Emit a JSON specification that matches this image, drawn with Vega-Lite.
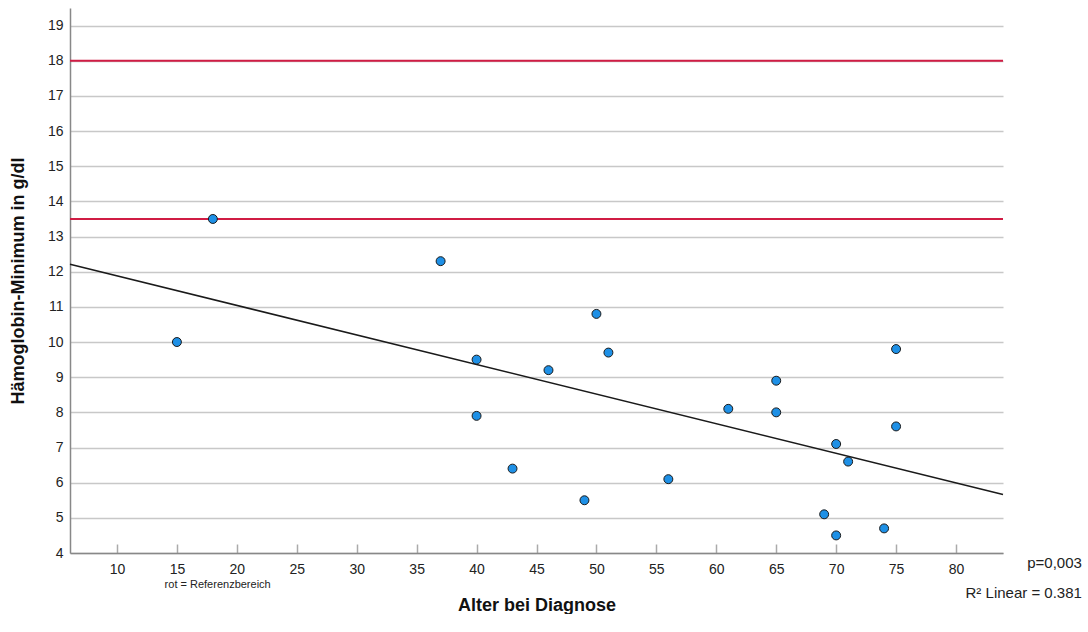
{
  "$schema": "https://vega.github.io/schema/vega-lite/v6.json",
  "width": 933,
  "height": 545,
  "padding": {"left": 9, "top": 8, "right": 0, "bottom": 0},
  "background": "white",
  "config": {
    "view": {"stroke": null},
    "font": "Liberation Sans",
    "axis": {"labelFont": "Liberation Sans", "titleFont": "Liberation Sans"}
  },
  "datasets": {
    "pts": [
      {"alter": 15, "hb": 10.0},
      {"alter": 18, "hb": 13.5},
      {"alter": 37, "hb": 12.3},
      {"alter": 40, "hb": 9.5},
      {"alter": 40, "hb": 7.9},
      {"alter": 43, "hb": 6.4},
      {"alter": 46, "hb": 9.2},
      {"alter": 49, "hb": 5.5},
      {"alter": 50, "hb": 10.8},
      {"alter": 51, "hb": 9.7},
      {"alter": 56, "hb": 6.1},
      {"alter": 61, "hb": 8.1},
      {"alter": 65, "hb": 8.9},
      {"alter": 65, "hb": 8.0},
      {"alter": 69, "hb": 5.1},
      {"alter": 70, "hb": 7.1},
      {"alter": 70, "hb": 4.5},
      {"alter": 71, "hb": 6.6},
      {"alter": 74, "hb": 4.7},
      {"alter": 75, "hb": 9.8},
      {"alter": 75, "hb": 7.6}
    ],
    "ref": [{"hb": 13.5}, {"hb": 18}],
    "noteLeft": [
      {"alter": 18.4, "hb": 3.09, "txt": "rot = Referenzbereich"}
    ],
    "noteRight": [
      {"alter": 90.5, "hb": 3.72, "txt": "p=0,003"},
      {"alter": 90.5, "hb": 2.86, "txt": "R² Linear = 0.381"}
    ]
  },
  "encoding": {
    "x": {
      "field": "alter", "type": "quantitative",
      "scale": {"domain": [6.08, 83.92], "nice": false, "zero": false},
      "axis": {
        "title": "Alter bei Diagnose",
        "values": [10, 15, 20, 25, 30, 35, 40, 45, 50, 55, 60, 65, 70, 75, 80],
        "labelOverlap": false,
        "grid": false,
        "domainColor": "#888888",
        "domainWidth": 1.5,
        "tickColor": "#aaaaaa",
        "tickWidth": 1.5,
        "tickSize": -9,
        "labelPadding": 18,
        "labelFontSize": 14,
        "labelColor": "#222222",
        "titleFontSize": 18,
        "titleFontWeight": "bold",
        "titleColor": "#111111",
        "titlePadding": 20
      }
    },
    "y": {
      "field": "hb", "type": "quantitative",
      "scale": {"domain": [4, 19.5], "nice": false, "zero": false},
      "axis": {
        "title": "Hämoglobin-Minimum in g/dl",
        "values": [4, 5, 6, 7, 8, 9, 10, 11, 12, 13, 14, 15, 16, 17, 18, 19],
        "labelOverlap": false,
        "grid": true,
        "gridColor": "#c8c8c8",
        "gridWidth": 1.5,
        "ticks": false,
        "domainColor": "#888888",
        "domainWidth": 1.5,
        "labelPadding": 7,
        "labelFontSize": 14,
        "labelColor": "#222222",
        "titleFontSize": 18,
        "titleFontWeight": "bold",
        "titleColor": "#111111",
        "titlePadding": 20
      }
    }
  },
  "layer": [
    {
      "data": {"name": "ref"},
      "mark": {"type": "rule", "color": "#d01c44", "strokeWidth": 2},
      "encoding": {"x": null, "y": {"field": "hb", "type": "quantitative"}}
    },
    {
      "data": {"name": "pts"},
      "transform": [{"regression": "hb", "on": "alter", "extent": [6.08, 83.92]}],
      "mark": {"type": "line", "color": "#1a1a1a", "strokeWidth": 1.5},
      "encoding": {}
    },
    {
      "data": {"name": "pts"},
      "mark": {"type": "circle", "size": 80, "color": "#1e90e6", "opacity": 1, "stroke": "#1a1a1a", "strokeWidth": 1},
      "encoding": {}
    },
    {
      "data": {"name": "noteLeft"},
      "mark": {"type": "text", "clip": false, "baseline": "middle", "align": "center", "fontSize": 11, "color": "#222222"},
      "encoding": {"text": {"field": "txt"}}
    },
    {
      "data": {"name": "noteRight"},
      "mark": {"type": "text", "clip": false, "baseline": "middle", "align": "right", "fontSize": 15, "color": "#222222"},
      "encoding": {"text": {"field": "txt"}}
    }
  ]
}
